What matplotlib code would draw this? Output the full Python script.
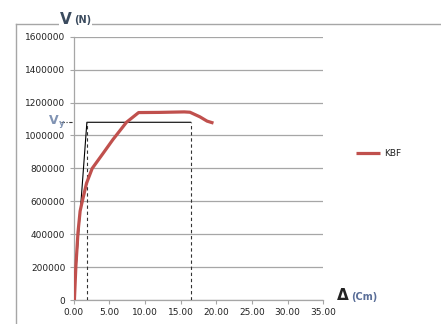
import matplotlib.pyplot as plt
from matplotlib.lines import Line2D

# KBF capacity curve (displacement in cm, shear in N)
delta = [0.1, 0.3, 0.6, 0.9, 1.1, 1.8, 2.6, 4.1, 5.5, 7.4, 9.1, 12.0, 15.5, 16.3, 17.7, 18.7, 19.6]
shear = [0, 200000, 410000, 540000, 580000, 710000, 800000, 890000, 975000, 1080000,
         1139000, 1140000, 1143000, 1141000, 1113000, 1087000, 1075000]

# bilinear idealisation
vy = 1080000
dy = 1.85
du = 16.4

yticks = [0, 200000, 400000, 600000, 800000, 1000000, 1200000, 1400000, 1600000]
xticks = [0, 5, 10, 15, 20, 25, 30, 35]


def main():
    W, H = 441, 324
    fig = plt.figure(figsize=(W / 100, H / 100), dpi=100)
    ax = fig.add_axes([73.7 / W, 1 - 300 / H, (323.3 - 73.7) / W, (300 - 36.7) / H])

    grid_c = "#a6a6a6"
    ax.set_xlim(0, 35)
    ax.set_ylim(0, 1600000)
    ax.set_yticks(yticks)
    ax.set_yticklabels([str(v) for v in yticks])
    ax.set_xticks(xticks)
    ax.set_xticklabels(["%.2f" % v for v in xticks])
    ax.grid(True, axis="y", color=grid_c, linewidth=0.9)
    ax.set_axisbelow(True)
    for s in ["top", "right"]:
        ax.spines[s].set_visible(False)
    for s in ["left", "bottom"]:
        ax.spines[s].set_color(grid_c)
        ax.spines[s].set_linewidth(0.9)
    ax.tick_params(axis="both", colors=grid_c, labelcolor="#222222", labelsize=6.5,
                   length=3, width=0.8, pad=3)

    # idealised bilinear lines
    ax.plot([0, dy, du], [0, vy, vy], color="black", linewidth=0.8, zorder=3)
    ax.plot([dy, dy], [0, vy], color="#333333", linestyle=(0, (3, 2.5)), linewidth=0.8, zorder=3)
    ax.plot([du, du], [0, vy], color="#333333", linestyle=(0, (3, 2.5)), linewidth=0.8, zorder=3)
    ax.plot([-1.8, 0], [vy, vy], color="#333333", linestyle=(0, (3, 1.5, 1, 1.5)),
            linewidth=0.8, clip_on=False)

    ax.plot(delta, shear, color="#c0504d", linewidth=2.3, label="KBF", zorder=4,
            solid_capstyle="butt")

    leg = ax.legend(loc="center left", bbox_to_anchor=(1.1, 0.555), frameon=False,
                    fontsize=6.5, handlelength=2.6, handletextpad=0.5)
    for t in leg.get_texts():
        t.set_color("#222222")

    # outer chart border (left and top)
    fig.add_artist(Line2D([16 / W, 16 / W], [0, 1 - 23.5 / H], color=grid_c, linewidth=1.0))
    fig.add_artist(Line2D([16 / W, 1], [1 - 23.5 / H, 1 - 23.5 / H], color=grid_c, linewidth=1.0))

    lab_c = "#3b4b5e"
    fig.text(60 / W, 1 - 19 / H, "V", fontsize=11, fontweight="bold", color=lab_c,
             va="center", ha="left",
             bbox=dict(facecolor="white", edgecolor="none", pad=1.0))
    fig.text(74 / W, 1 - 20 / H, "(N)", fontsize=7, fontweight="bold", color=lab_c,
             va="center", ha="left", bbox=dict(facecolor="white", edgecolor="none", pad=1.0))

    fig.text(49 / W, 1 - 121 / H, "V", fontsize=9, fontweight="bold", color="#8093b3",
             va="center", ha="left")
    fig.text(58.5 / W, 1 - 124 / H, "y", fontsize=6, fontweight="bold", color="#8093b3",
             va="center", ha="left")

    fig.text(337 / W, 1 - 296 / H, "Δ", fontsize=11, fontweight="bold", color="#222222",
             va="center", ha="left")
    fig.text(351 / W, 1 - 297 / H, "(Cm)", fontsize=7, fontweight="bold", color="#5b6f99",
             va="center", ha="left")

    plt.savefig("out.png", dpi=100)


if __name__ == "__main__":
    main()
